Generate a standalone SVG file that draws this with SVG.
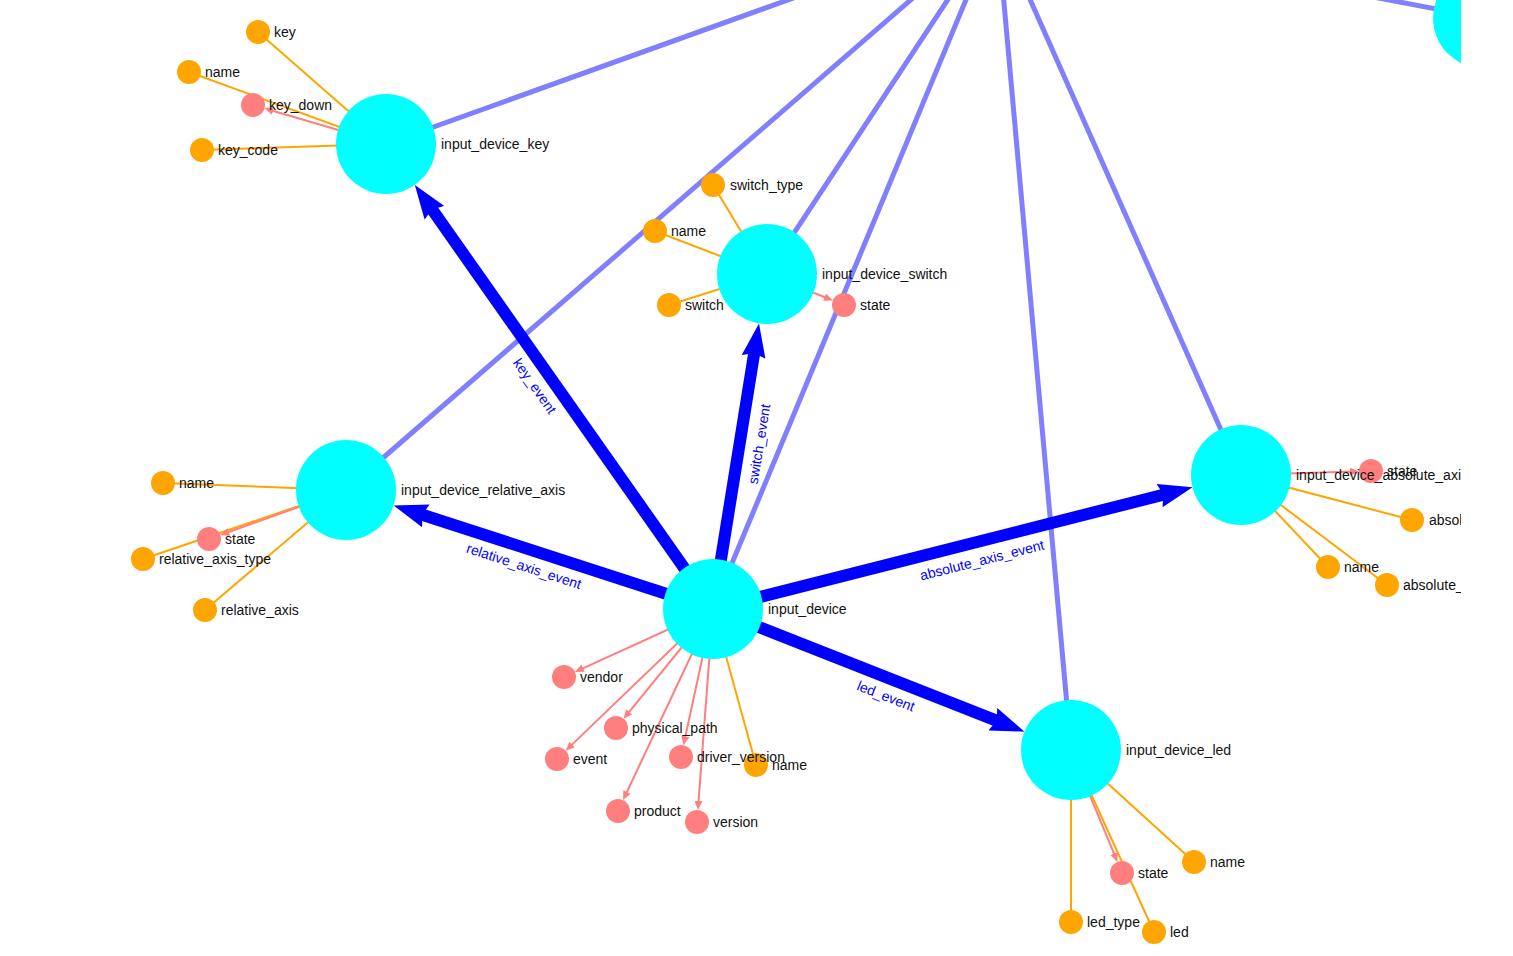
<svg xmlns="http://www.w3.org/2000/svg" width="1513" height="956" viewBox="0 0 1513 956">
<style>
.hub{stroke:#8080ff;stroke-width:5;fill:none}
.ev{stroke:#0000ff;stroke-width:12;fill:none;marker-end:url(#bigArrow)}
.at{stroke:#ffa500;stroke-width:2;fill:none}
.rel{stroke:#ff7f7f;stroke-width:2;fill:none;marker-end:url(#smallArrow)}
.main{fill:#00ffff}
.attr{fill:#ffa500}
.ref{fill:#ff7f7f}
text{font-family:"Liberation Sans",Arial,sans-serif;font-size:14px;fill:#111}
.el{fill:#0000ff;text-anchor:middle;dominant-baseline:central}
.lb{dominant-baseline:central}
</style>
<defs>
<clipPath id="view"><rect x="0" y="0" width="1461" height="956"/></clipPath>
<marker id="bigArrow" markerUnits="userSpaceOnUse" markerWidth="34" markerHeight="24" viewBox="0 0 34 24" refX="12" refY="12" orient="auto"><path d="M0,0 L34,12 L0,24 L4,12 z" fill="#0000ff"/></marker>
<marker id="smallArrow" markerUnits="userSpaceOnUse" markerWidth="9" markerHeight="8" viewBox="0 0 9 8" refX="5" refY="4" orient="auto"><path d="M0,0 L9,4 L0,8 z" fill="#ff7f7f"/></marker>
</defs>
<rect width="1513" height="956" fill="#ffffff"/>
<g clip-path="url(#view)">
<g id="connectors">
<line class="hub" x1="997" y1="-75" x2="386" y2="144"/>
<line class="hub" x1="997" y1="-75" x2="346" y2="490"/>
<line class="hub" x1="997" y1="-75" x2="767" y2="274"/>
<line class="hub" x1="997" y1="-75" x2="713" y2="609"/>
<line class="hub" x1="997" y1="-75" x2="1071" y2="750"/>
<line class="hub" x1="997" y1="-75" x2="1241" y2="475"/>
<line class="hub" x1="997" y1="-75" x2="1483" y2="18"/>

<line class="at" x1="386" y1="144" x2="258" y2="32"/>
<line class="at" x1="386" y1="144" x2="189" y2="72"/>
<line class="at" x1="386" y1="144" x2="202" y2="150"/>
<line class="rel" x1="386" y1="144" x2="268.3" y2="109.5"/>

<line class="at" x1="767" y1="274" x2="713" y2="185"/>
<line class="at" x1="767" y1="274" x2="655" y2="231"/>
<line class="at" x1="767" y1="274" x2="669" y2="305"/>
<line class="rel" x1="767" y1="274" x2="829.2" y2="299.0"/>

<line class="at" x1="346" y1="490" x2="163" y2="483"/>
<line class="at" x1="346" y1="490" x2="143" y2="559"/>
<line class="at" x1="346" y1="490" x2="205" y2="610"/>
<line class="rel" x1="346" y1="490" x2="224.1" y2="533.7"/>

<line class="at" x1="1241" y1="475" x2="1412" y2="520"/>
<line class="at" x1="1241" y1="475" x2="1328" y2="567"/>
<line class="at" x1="1241" y1="475" x2="1387" y2="585"/>
<line class="rel" x1="1241" y1="475" x2="1355.0" y2="471.5"/>

<line class="at" x1="1071" y1="750" x2="1194" y2="862"/>
<line class="at" x1="1071" y1="750" x2="1071" y2="922"/>
<line class="at" x1="1071" y1="750" x2="1154" y2="932"/>
<line class="rel" x1="1071" y1="750" x2="1115.9" y2="858.2"/>

<line class="at" x1="713" y1="609" x2="756" y2="765"/>
<line class="rel" x1="713" y1="609" x2="578.5" y2="670.3"/>
<line class="rel" x1="713" y1="609" x2="626.1" y2="715.6"/>
<line class="rel" x1="713" y1="609" x2="568.6" y2="747.9"/>
<line class="rel" x1="713" y1="609" x2="684.3" y2="741.4"/>
<line class="rel" x1="713" y1="609" x2="624.8" y2="796.5"/>
<line class="rel" x1="713" y1="609" x2="698.2" y2="806.0"/>

<line class="ev" x1="713" y1="609" x2="427.5" y2="202.9"/>
<line class="ev" x1="713" y1="609" x2="755.5" y2="345.1"/>
<line class="ev" x1="713" y1="609" x2="414.5" y2="512.2"/>
<line class="ev" x1="713" y1="609" x2="1171.2" y2="492.7"/>
<line class="ev" x1="713" y1="609" x2="1004.0" y2="723.6"/>

<text class="el" x="535" y="386" transform="rotate(54.9 535 386)">key_event</text>
<text class="el" x="759" y="444" transform="rotate(-80.8 759 444)">switch_event</text>
<text class="el" x="524" y="566" transform="rotate(18 524 566)">relative_axis_event</text>
<text class="el" x="982" y="560" transform="rotate(-14.2 982 560)">absolute_axis_event</text>
<text class="el" x="886" y="696" transform="rotate(21.5 886 696)">led_event</text>
</g>

<g id="hub_top_right"><circle class="main" cx="1483" cy="18" r="50"/></g>

<g id="input_device_key"><circle class="main" cx="386" cy="144" r="50"/><text class="lb" x="441" y="144">input_device_key</text></g>
<g id="key_key"><circle class="attr" cx="258" cy="32" r="12"/><text class="lb" x="274" y="32">key</text></g>
<g id="key_name"><circle class="attr" cx="189" cy="72" r="12"/><text class="lb" x="205" y="72">name</text></g>
<g id="key_key_down"><circle class="ref" cx="253" cy="105" r="12"/><text class="lb" x="269" y="105">key_down</text></g>
<g id="key_key_code"><circle class="attr" cx="202" cy="150" r="12"/><text class="lb" x="218" y="150">key_code</text></g>

<g id="input_device_switch"><circle class="main" cx="767" cy="274" r="50"/><text class="lb" x="822" y="274">input_device_switch</text></g>
<g id="switch_switch_type"><circle class="attr" cx="713" cy="185" r="12"/><text class="lb" x="730" y="185">switch_type</text></g>
<g id="switch_name"><circle class="attr" cx="655" cy="231" r="12"/><text class="lb" x="671" y="231">name</text></g>
<g id="switch_switch"><circle class="attr" cx="669" cy="305" r="12"/><text class="lb" x="685" y="305">switch</text></g>
<g id="switch_state"><circle class="ref" cx="844" cy="305" r="12"/><text class="lb" x="860" y="305">state</text></g>

<g id="input_device_relative_axis"><circle class="main" cx="346" cy="490" r="50"/><text class="lb" x="401" y="490">input_device_relative_axis</text></g>
<g id="rel_name"><circle class="attr" cx="163" cy="483" r="12"/><text class="lb" x="179" y="483">name</text></g>
<g id="rel_state"><circle class="ref" cx="209" cy="539" r="12"/><text class="lb" x="225" y="539">state</text></g>
<g id="rel_relative_axis_type"><circle class="attr" cx="143" cy="559" r="12"/><text class="lb" x="159" y="559">relative_axis_type</text></g>
<g id="rel_relative_axis"><circle class="attr" cx="205" cy="610" r="12"/><text class="lb" x="221" y="610">relative_axis</text></g>

<g id="input_device_absolute_axis"><circle class="main" cx="1241" cy="475" r="50"/><circle class="ref" cx="1371" cy="471" r="12"/><text class="lb" x="1296" y="475">input_device_absolute_axis</text></g>
<g id="abs_state"><text class="lb" x="1387" y="471">state</text></g>
<g id="abs_absolute_axis"><circle class="attr" cx="1412" cy="520" r="12"/><text class="lb" x="1429" y="520">absolute_axis</text></g>
<g id="abs_name"><circle class="attr" cx="1328" cy="567" r="12"/><text class="lb" x="1344" y="567">name</text></g>
<g id="abs_absolute_axis_type"><circle class="attr" cx="1387" cy="585" r="12"/><text class="lb" x="1403" y="585">absolute_axis_type</text></g>

<g id="input_device_led"><circle class="main" cx="1071" cy="750" r="50"/><text class="lb" x="1126" y="750">input_device_led</text></g>
<g id="led_state"><circle class="ref" cx="1122" cy="873" r="12"/><text class="lb" x="1138" y="873">state</text></g>
<g id="led_name"><circle class="attr" cx="1194" cy="862" r="12"/><text class="lb" x="1210" y="862">name</text></g>
<g id="led_led_type"><circle class="attr" cx="1071" cy="922" r="12"/><text class="lb" x="1087" y="922">led_type</text></g>
<g id="led_led"><circle class="attr" cx="1154" cy="932" r="12"/><text class="lb" x="1170" y="932">led</text></g>

<g id="input_device"><circle class="main" cx="713" cy="609" r="50"/><text class="lb" x="768" y="609">input_device</text></g>
<g id="dev_vendor"><circle class="ref" cx="564" cy="677" r="12"/><text class="lb" x="580" y="677">vendor</text></g>
<g id="dev_physical_path"><circle class="ref" cx="616" cy="728" r="12"/><text class="lb" x="632" y="728">physical_path</text></g>
<g id="dev_event"><circle class="ref" cx="557" cy="759" r="12"/><text class="lb" x="573" y="759">event</text></g>
<g id="dev_name"><circle class="attr" cx="756" cy="765" r="12"/></g>
<g id="dev_driver_version"><circle class="ref" cx="681" cy="757" r="12"/><text class="lb" x="697" y="757">driver_version</text></g>
<text class="lb" x="772" y="765">name</text>
<g id="dev_product"><circle class="ref" cx="618" cy="811" r="12"/><text class="lb" x="634" y="811">product</text></g>
<g id="dev_version"><circle class="ref" cx="697" cy="822" r="12"/><text class="lb" x="713" y="822">version</text></g>
</g>
</svg>
